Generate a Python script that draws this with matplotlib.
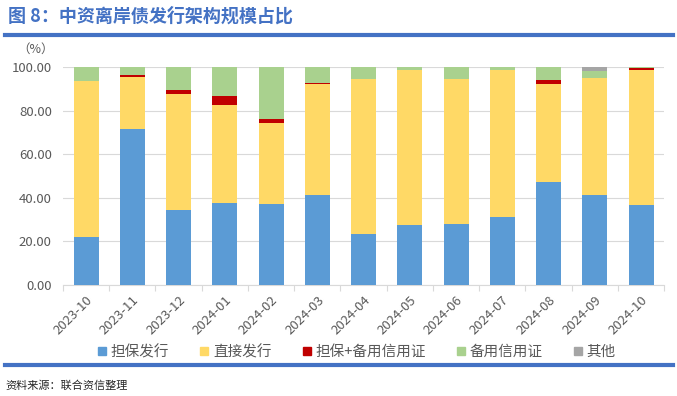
import numpy as np
import matplotlib.pyplot as plt
from matplotlib.lines import Line2D

plt.rcParams['font.family'] = ['Noto Sans CJK SC', 'DejaVu Sans']

months = ['2023-10', '2023-11', '2023-12', '2024-01', '2024-02', '2024-03',
          '2024-04', '2024-05', '2024-06', '2024-07', '2024-08', '2024-09',
          '2024-10']
guarantee = [22.1, 71.6, 34.2, 37.5, 37.1, 41.1, 23.4, 27.7, 28.2, 31.3, 47.2, 41.5, 36.9]
direct = [71.5, 24.0, 53.6, 45.1, 37.2, 50.9, 71.2, 70.7, 66.2, 67.1, 44.9, 53.4, 61.8]
guar_sblc = [0.0, 0.8, 1.4, 4.3, 2.0, 0.6, 0.0, 0.0, 0.0, 0.0, 1.7, 0.0, 0.9]
sblc = [6.4, 3.6, 10.8, 13.1, 23.7, 7.4, 5.4, 1.6, 5.6, 1.6, 6.2, 3.3, 0.4]
other = [0.0, 0.0, 0.0, 0.0, 0.0, 0.0, 0.0, 0.0, 0.0, 0.0, 0.0, 1.8, 0.0]

series = [
    ('担保发行', guarantee, '#5B9BD5'),
    ('直接发行', direct, '#FFD966'),
    ('担保+备用信用证', guar_sblc, '#C00000'),
    ('备用信用证', sblc, '#A9D18E'),
    ('其他', other, '#A5A5A5'),
]

title_blue = '#4472C4'
fig = plt.figure(figsize=(6.77, 3.96), dpi=100)
ax = fig.add_axes([0.093, 0.280, 0.888, 0.551])

x = np.arange(len(months))
bottom = np.zeros(len(months))
handles = []
for name, vals, color in series:
    vals = np.array(vals)
    ax.bar(x, vals, bottom=bottom, width=0.54, color=color, zorder=3)
    bottom += vals
    handles.append(Line2D([], [], marker='s', linestyle='none', markersize=6,
                          color=color, label=name))

ax.set_xlim(-0.5, len(months) - 0.5)
ax.set_ylim(0, 100)
ax.set_yticks(np.arange(0, 101, 20))
ax.set_yticklabels(['%.2f' % v for v in np.arange(0, 101, 20)])
ax.yaxis.grid(True, color='#D9D9D9', linewidth=0.8, zorder=0)
ax.set_xticks(x)
ax.set_xticklabels(months, rotation=45, ha='right', rotation_mode='anchor')
ax.set_xticks(np.arange(-0.5, len(months)), minor=True)
ax.tick_params(axis='x', which='major', length=0, pad=6, labelsize=9.5, labelcolor='#595959')
ax.tick_params(axis='x', which='minor', length=4, color='#D9D9D9', width=0.8)
ax.tick_params(axis='y', length=0, labelsize=9.5, labelcolor='#595959', pad=8)
for side in ['top', 'right', 'left']:
    ax.spines[side].set_visible(False)
ax.spines['bottom'].set_color('#D9D9D9')
ax.spines['bottom'].set_linewidth(0.8)

fig.text(0.053, 1 - 49 / 396, '（%）', fontsize=9, color='#595959', ha='center', va='center')

fig.legend(handles=handles, loc='center', bbox_to_anchor=(0.527, 1 - 352 / 396),
           ncol=5, frameon=False, fontsize=10.5, handlelength=0.6, handletextpad=0.3,
           columnspacing=2.1, labelcolor='#595959')

fig.text(0.012, 1 - 16 / 396, '图 8：中资离岸债发行架构规模占比', fontsize=13,
         fontweight='bold', color=title_blue, va='center', ha='left')
fig.add_artist(Line2D([5 / 677, 673 / 677], [1 - 35 / 396] * 2, lw=3, color=title_blue))
fig.add_artist(Line2D([5 / 677, 673 / 677], [1 - 365 / 396] * 2, lw=3, color=title_blue))
fig.text(0.008, 1 - 386 / 396, '资料来源：联合资信整理', fontsize=8, color='#262626',
         va='center', ha='left')

fig.savefig('out.png', dpi=100)
